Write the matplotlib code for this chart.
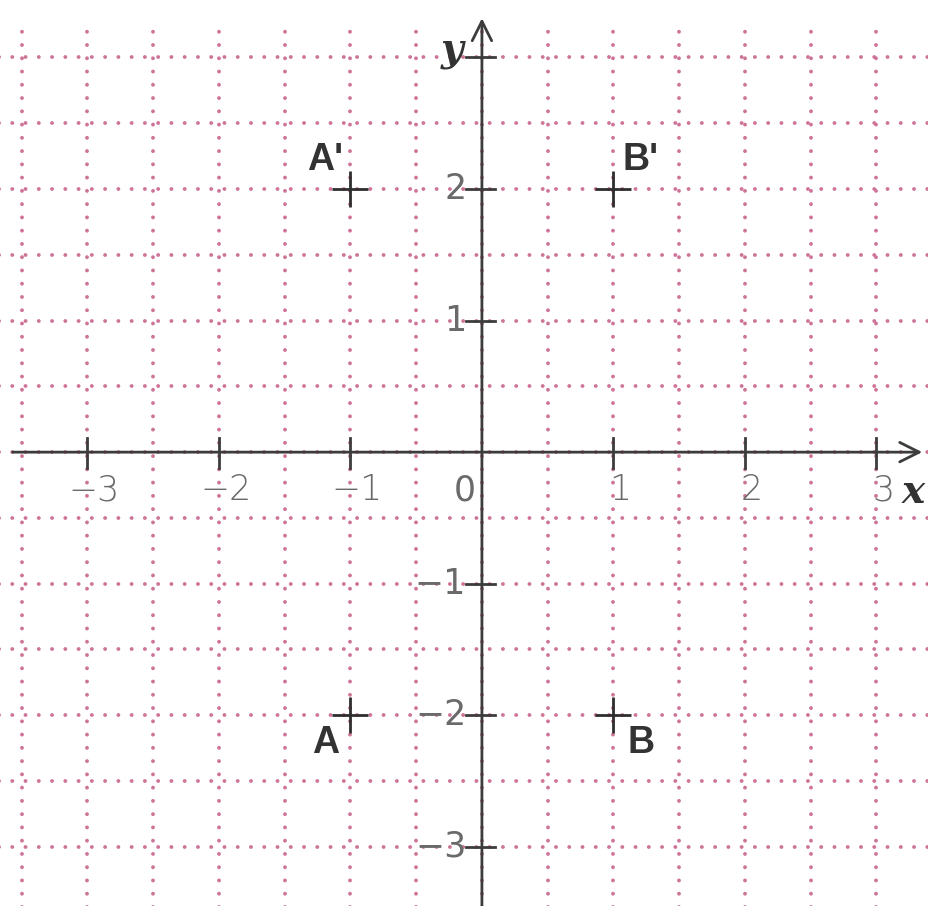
import numpy as np
import matplotlib.pyplot as plt

# points and their labels
names = ["A", "B", "A'", "B'"]
pt_x = [-1, 1, -1, 1]
pt_y = [-2, -2, 2, 2]

# axis ticks
x_ticks = [-3, -2, -1, 0, 1, 2, 3]
y_ticks = [-3, -2, -1, 1, 2]

# dotted grid, every half unit
grid_x = np.arange(-3.5, 3.01, 0.5)
grid_y = np.arange(-3.0, 3.01, 0.5)

fig = plt.figure(figsize=(9.29, 9.06), dpi=100)
ax = fig.add_axes([0, 0, 1, 1])
ax.set_xlim(-3.665, 3.40)
ax.set_ylim(-3.45, 3.437)
ax.axis("off")

grid_col = "#cf7499"
dots = (0, (0.01, 3.4))
for gx in grid_x:
    ax.plot([gx, gx], [-3.6, 3.28], color=grid_col, lw=2.8,
            linestyle=dots, dash_capstyle="round", zorder=1)
for gy in grid_y:
    ax.plot([-3.7, 3.5], [gy, gy], color=grid_col, lw=2.8,
            linestyle=dots, dash_capstyle="round", zorder=1)

axis_col = "#3c3c3c"
ax.annotate("", xy=(3.37, 0), xytext=(-3.59, 0),
            arrowprops=dict(arrowstyle="->", color=axis_col, lw=2,
                            mutation_scale=35), zorder=3)
ax.annotate("", xy=(0, 3.32), xytext=(0, -3.6),
            arrowprops=dict(arrowstyle="->", color=axis_col, lw=2,
                            mutation_scale=35), zorder=3)

tick_col = "#6a6a6a"
for t in x_ticks:
    if t != 0:
        ax.plot([t, t], [-0.12, 0.11], color=axis_col, lw=2, zorder=3)
        ax.text(t + 0.05, -0.29, str(t).replace("-", "\u2212"), ha="center",
                va="center", fontsize=25, color=tick_col,
                family="DejaVu Sans", fontweight="light")
    else:
        ax.text(-0.13, -0.29, "0", ha="center", va="center", fontsize=25,
                color=tick_col, family="DejaVu Sans")

for t in y_ticks + [3]:
    ax.plot([-0.12, 0.1], [t, t], color=axis_col, lw=2, zorder=3)
for t in y_ticks:
    ax.text(-0.12, t, str(t).replace("-", "\u2212"), ha="right", va="center",
            fontsize=25, color=tick_col, family="DejaVu Sans")

ax.text(-0.23, 3.06, "y", ha="center", va="center", fontsize=28,
        family="DejaVu Serif", style="italic", fontweight="bold", color="#333333")
ax.text(3.28, -0.30, "x", ha="center", va="center", fontsize=28,
        family="DejaVu Serif", style="italic", fontweight="bold", color="#333333")

ax.plot(pt_x, pt_y, "+", ms=26, mew=2, color="#2e2e2e", zorder=4)
for n, x, y in zip(names, pt_x, pt_y):
    dx = -0.19 if x < 0 else 0.21
    dy = 0.22 if y > 0 else -0.21
    ax.text(x + dx, y + dy, n, ha="center", va="center", fontsize=27,
            fontweight="bold", family="Liberation Sans", color="#333333")

fig.savefig("out.png", dpi=100)
